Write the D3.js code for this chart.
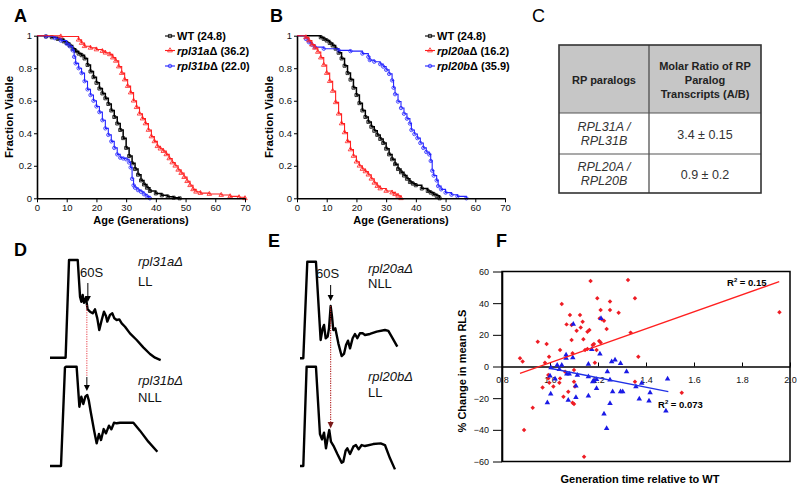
<!DOCTYPE html>
<html>
<head>
<meta charset="utf-8">
<script src="https://cdn.jsdelivr.net/npm/d3@7"></script>
<style>
  body { margin: 0; background: #fff; }
</style>
</head>
<body>
<svg width="800" height="489"></svg>
<script>
// ---- survival data: [age (generations), fraction viable]
const ageTicks = [0, 10, 20, 30, 40, 50, 60, 70];
const fracTicks = [0, 0.2, 0.4, 0.6, 0.8, 1];

const wtA = [[0,1],[3,0.995],[5,0.99],[7,0.98],[9,0.965],[10,0.955],[11,0.94],[12,0.92],[13,0.905],[14,0.89],[15,0.88],[16,0.86],[17,0.82],[18,0.78],[19,0.745],[20,0.71],[21,0.675],[22,0.645],[23,0.615],[24,0.58],[25,0.54],[26,0.5],[27,0.46],[28,0.42],[29,0.37],[30,0.31],[31,0.26],[32,0.215],[33,0.18],[34,0.145],[35,0.11],[36,0.085],[37,0.065],[38,0.045],[40,0.03],[42,0.018],[44,0.01],[46,0.004],[48,0]];
const rpl31a = [[0,1],[8,0.995],[14,0.975],[15,0.955],[16,0.935],[18,0.925],[20,0.915],[22,0.905],[23,0.895],[24.5,0.885],[25.5,0.865],[26.5,0.845],[27.5,0.81],[28.5,0.77],[29.5,0.73],[30.5,0.69],[31.5,0.65],[32.5,0.6],[33.5,0.56],[34.5,0.52],[35.5,0.49],[36.5,0.46],[37.5,0.42],[38.5,0.38],[39.5,0.35],[40.5,0.32],[41.5,0.305],[42.5,0.29],[43.5,0.27],[44.5,0.245],[45.5,0.22],[46.5,0.2],[47.5,0.175],[48.5,0.155],[49.5,0.13],[50.5,0.105],[51.5,0.08],[52.5,0.055],[53.5,0.04],[55,0.032],[58,0.026],[62,0.02],[65,0.012],[68,0.006],[70,0]];
const rpl31b = [[0,1],[3,0.995],[6,0.985],[8,0.97],[10,0.95],[11,0.935],[12,0.91],[12.5,0.87],[13,0.83],[14,0.8],[15,0.77],[16,0.72],[17,0.67],[18,0.635],[19,0.6],[20,0.565],[21,0.53],[22,0.48],[23,0.43],[24,0.39],[25,0.35],[26,0.31],[27,0.27],[28,0.25],[29,0.245],[30,0.24],[31,0.22],[31.5,0.19],[32,0.12],[32.5,0.08],[33,0.065],[34,0.05],[35,0.04],[36,0.025],[37,0.012],[38,0]];

const wtB = [[0,1],[8,0.99],[9,0.98],[10,0.97],[11,0.955],[12,0.94],[13,0.92],[14,0.895],[15,0.86],[16,0.815],[17,0.77],[18,0.73],[19,0.68],[20,0.635],[21,0.585],[22,0.54],[23,0.5],[24,0.47],[25,0.44],[26,0.415],[27,0.39],[28,0.365],[29,0.34],[30,0.305],[31,0.27],[32,0.24],[33,0.21],[34,0.18],[35,0.16],[36,0.14],[37,0.12],[38,0.1],[39,0.09],[40,0.08],[42,0.06],[44,0.045],[45,0.035],[46,0.025],[47,0.015],[48,0]];
const rpl20a = [[0,1],[3,0.99],[4,0.97],[5,0.945],[6,0.925],[7,0.9],[8,0.865],[9,0.82],[10,0.77],[11,0.72],[12,0.66],[13,0.59],[14,0.52],[15,0.46],[16,0.405],[17,0.35],[18,0.3],[19,0.26],[20,0.225],[21,0.2],[22,0.18],[23,0.165],[24,0.145],[25,0.12],[26,0.095],[27,0.075],[28,0.06],[30,0.045],[32,0.035],[33,0.025],[34,0.015],[35,0]];
const rpl20b = [[0,1],[3,0.98],[4,0.96],[5,0.945],[6,0.93],[9,0.92],[14,0.91],[18,0.905],[22,0.89],[24,0.87],[24.5,0.85],[26,0.84],[28,0.825],[29,0.81],[30,0.79],[31,0.765],[32,0.725],[32.5,0.68],[33,0.64],[34,0.595],[35,0.555],[36,0.52],[37,0.49],[38,0.46],[38.5,0.42],[39.5,0.395],[40.5,0.37],[41.5,0.34],[42.5,0.31],[43.5,0.285],[44.5,0.27],[45,0.23],[45.5,0.17],[46,0.14],[47,0.11],[47.5,0.075],[48.5,0.055],[50,0.035],[52,0.022],[54,0.012],[57,0]];

const strainsA = ['WT', 'rpl31a', 'rpl31b'];
const meansA = [24.8, 36.2, 22.0];
const strainsB = ['WT', 'rpl20a', 'rpl20b'];
const meansB = [24.8, 16.2, 35.9];

// ---- table C
const headParalog = 'RP paralogs';
const headRatio = ['Molar Ratio of RP', 'Paralog', 'Transcripts (A/B)'];
const paralogPairs = [['RPL31A /', 'RPL31B'], ['RPL20A /', 'RPL20B']];
const molarRatios = ['3.4 ± 0.15', '0.9 ± 0.2'];

// ---- polysome profiles: [gradient position 0-100, absorbance 0-100]
const d31aTrace = [[0,0],[14.2,0],[17.3,100],[25.2,100],[27.3,62.5],[28.5,57.3],[29.7,64.2],[30.9,56.3],[32.7,61.4],[34.2,49.5],[36.4,47.1],[38.8,45.4],[40.9,49.5],[43,40.3],[44.8,28.3],[47,38.6],[49.1,47.1],[50.9,42.7],[52.1,36.9],[54.5,43.7],[56.7,45.4],[58.5,40.3],[60.6,38.6],[63,39.2],[65.2,35.2],[68.2,31.7],[72.7,24.9],[78.8,18.1],[84.8,10.6],[90.9,3.8],[95.5,0],[100.6,-2.4]];
const d31bTrace = [[0,0],[10,0],[13.6,99.3],[14.5,100],[24.2,100],[26.7,59.7],[28.5,69.8],[30.3,62.4],[32.1,69.8],[33.9,71.5],[35.2,66.4],[37,54.7],[40,36.2],[42.4,22.8],[44.5,32.2],[46.4,26.2],[48.8,37.2],[50.9,32.9],[53.6,40.6],[55.8,36.9],[58.2,43.6],[60.6,43],[63.6,43.6],[75.8,43.6],[81.8,35.6],[89.4,24.5],[97.6,14.4]];
const e20aTrace = [[0,0],[3.4,0],[7.5,100],[16.4,100],[21.2,19],[23.3,31],[24.7,34.5],[26.4,20.7],[28.4,22.4],[29.8,31],[31.5,54.1],[32.9,43.1],[34.2,29.3],[36.3,31],[39.4,15.5],[42.8,2.4],[45.2,4.5],[47.3,13.8],[49.3,18.3],[51.4,10.3],[54.1,20.7],[56.5,25.2],[58.9,20.7],[61.6,25.9],[64.4,25.9],[66.8,24.1],[71.9,25.2],[78.8,27.6],[87.3,29.3],[90.8,28.3],[94.2,22.4],[100,12.1]];
const e20bTrace = [[0,0],[3.4,0],[6.8,100],[16.4,100],[20.5,32.2],[22.6,26.8],[24.7,33.6],[26.7,17.8],[28.4,27.9],[30.1,36.2],[31.8,24.5],[34.9,19.5],[38.4,12.1],[42.8,3.4],[44.5,4.4],[46.9,15.4],[48.6,17.8],[51.4,12.1],[54.8,19.5],[57.5,21.1],[60.3,16.8],[63.4,21.1],[66.8,20.1],[75.3,22.1],[82.9,22.8],[87.3,21.1],[92.5,7.7],[97.6,-3.4]];

// ---- panel F: [generation time relative to WT, % change in mean RLS]
const genTicks = [0.8, 1.0, 1.2, 1.4, 1.6, 1.8, 2.0];
const rlsTicks = [-60, -40, -20, 0, 20, 40, 60];
const redPts = [[1.169,54.0],[1.325,54.6],[1.354,43.1],[1.197,43.1],[1.049,39.5],[1.25,41.0],[1.211,35.7],[1.25,35.7],[1.286,34.0],[1.083,32.5],[1.125,32.5],[1.207,30.4],[1.215,29.8],[1.225,28.9],[1.136,28.3],[1.069,26.6],[1.09,26.2],[1.128,24.7],[1.236,23.7],[1.111,22.6],[1.156,22.0],[1.164,23.1],[1.336,21.4],[1.09,16.7],[1.139,17.2],[0.949,15.7],[0.986,14.2],[1.205,16.1],[1.211,15.1],[1.178,13.6],[1.183,14.2],[1.156,11.1],[1.146,10.4],[1.194,10.4],[1.042,10.4],[1.094,8.3],[0.996,6.2],[0.875,5.2],[0.886,3.1],[0.979,2.4],[1.187,2.4],[1.368,6.2],[1.956,34.2],[0.993,-5.4],[1.063,-3.3],[1.1,-2.2],[0.993,-7.5],[1.042,-7.5],[0.997,-10.2],[1.039,-10.2],[0.969,-13.2],[1.014,-12.7],[1.1,-9.6],[1.104,-12.7],[1.076,-15.9],[1.056,-19.1],[1.094,-22.9],[1.1,-23.7],[0.928,-26.0],[0.892,-40.1],[1.142,-57.0],[1.354,-9.6],[1.549,-16.6]];
const bluePts = [[1.097,26.8],[1.2125,30.4],[1.174,10.8],[1.067,7.3],[1.095,5.6],[1.067,5.2],[1.208,7.9],[1.271,4.1],[1.257,3.1],[1.294,2.0],[1.16,1.4],[1.03,0.9],[1.049,0.9],[1.004,-0.7],[1.039,-1.8],[1.319,-3.3],[1.239,-3.3],[1.07,-4.7],[1.08,-4.7],[1.114,-5.4],[1.16,-6.4],[1.183,-8.9],[1.194,-8.1],[1.25,-8.5],[1.178,-9.6],[1.021,-7.9],[1.108,-12.3],[1.194,-13.8],[1.382,-10.6],[1.358,-12.7],[1.49,-7.9],[1.261,-15.9],[1.294,-15.9],[1.303,-15.9],[1.417,-16.6],[1.003,-17.3],[1.108,-19.5],[1.16,-18.6],[0.989,-22.9],[1.076,-21.2],[1.25,-23.3],[1.372,-20.5],[1.4125,-21.8],[1.483,-28.1],[1.225,-30.0],[1.236,-39.1],[1.0,-6.0]];
const redFit = [[0.875,-4.3],[1.955,53.6]];
const blueFit = [[1.0,-1.1],[1.493,-15.9]];
const redR2 = '0.15';
const blueR2 = '0.073';

const FONT = "'Liberation Sans', Arial, Helvetica, sans-serif";
const svg = d3.select('svg').style('font-family', FONT);
const curveColors = ['#000', '#ff1f1f', '#2424ff'];
const shapes = [d3.symbolSquare, d3.symbolTriangle, d3.symbolCircle];

// panel letters
[['A', 14, 22], ['B', 270, 22], ['C', 532, 22], ['D', 14, 256], ['E', 268, 247], ['F', 496, 247]]
  .forEach(([t, x, y]) => svg.append('text').attr('x', x).attr('y', y)
    .attr('font-size', 18).attr('font-weight', t === 'C' ? 'normal' : 'bold').text(t));

function styleAxis(a, size) {
  a.attr('font-family', FONT).attr('font-size', size);
  a.select('.domain').attr('stroke-width', 1.6);
  a.selectAll('.tick text').attr('fill', '#111');
}

function survivalPanel(left, series, strains, means) {
  const x = d3.scaleLinear().domain([0, 70]).range([left, left + 208]);
  const y = d3.scaleLinear().domain([0, 1]).range([198.3, 35.7]);
  const g = svg.append('g');
  const step = d3.line().x(d => x(d[0])).y(d => y(d[1])).curve(d3.curveStepAfter);

  const order = [0, 2, 1];
  order.forEach(i => {
    const s = series[i];
    g.append('path').datum(s).attr('d', step).attr('fill', 'none')
      .attr('stroke', curveColors[i]).attr('stroke-width', i === 0 ? 1.5 : 1.1);
    g.selectAll(null).data(s.slice(1)).join('path')
      .attr('transform', d => `translate(${x(d[0])},${y(d[1])})`)
      .attr('d', d3.symbol(shapes[i], 9))
      .attr('fill', 'none').attr('stroke', curveColors[i]).attr('stroke-width', 0.8);
  });

  const xa = g.append('g').attr('transform', `translate(0,${y(0)})`)
    .call(d3.axisBottom(x).tickValues(ageTicks).tickSize(4).tickSizeOuter(0).tickPadding(2));
  const ya = g.append('g').attr('transform', `translate(${x(0)},0)`)
    .call(d3.axisLeft(y).tickValues(fracTicks).tickSize(3).tickSizeOuter(0).tickPadding(2).tickFormat(d => d));
  styleAxis(xa, 9.5);
  styleAxis(ya, 9.5);

  g.append('text').attr('x', left + 104).attr('y', 224).attr('text-anchor', 'middle')
    .attr('font-size', 11).attr('font-weight', 'bold').text('Age (Generations)');
  g.append('text').attr('transform', `translate(${left - 24},117) rotate(-90)`)
    .attr('text-anchor', 'middle').attr('font-size', 11.5).attr('font-weight', 'bold')
    .text('Fraction Viable');

  // legend
  const lx = left + 128;
  const rows = [36, 50.5, 66];
  strains.forEach((s, i) => {
    const yy = rows[i];
    g.append('line').attr('x1', lx).attr('x2', lx + 10).attr('y1', yy).attr('y2', yy)
      .attr('stroke', curveColors[i]).attr('stroke-width', 1.1);
    g.append('path').attr('transform', `translate(${lx + 5},${yy})`)
      .attr('d', d3.symbol(shapes[i], 10)).attr('fill', 'none')
      .attr('stroke', curveColors[i]).attr('stroke-width', 0.8);
    const t = g.append('text').attr('x', lx + 12).attr('y', yy + 4)
      .attr('font-size', 11).attr('font-weight', 'bold');
    if (i === 0) t.text(`${s} (${means[i].toFixed(1)})`);
    else {
      t.append('tspan').attr('font-style', 'italic').text(s);
      t.append('tspan').text(`Δ (${means[i].toFixed(1)})`);
    }
  });
}

survivalPanel(37, [wtA, rpl31a, rpl31b], strainsA, meansA);
survivalPanel(297, [wtB, rpl20a, rpl20b], strainsB, meansB);

// ---- table C
const colX = [559, 649, 761];
const rowY = [45, 113, 154, 193];
const tc = svg.append('g');
tc.append('rect').attr('x', colX[0]).attr('y', rowY[0]).attr('width', colX[2] - colX[0])
  .attr('height', rowY[1] - rowY[0]).attr('fill', '#c6c6c6');
tc.append('line').attr('x1', colX[1]).attr('x2', colX[1]).attr('y1', rowY[0]).attr('y2', rowY[3])
  .attr('stroke', '#444').attr('stroke-width', 1.2);
rowY.slice(1, 3).forEach(r => tc.append('line').attr('x1', colX[0]).attr('x2', colX[2])
  .attr('y1', r).attr('y2', r).attr('stroke', '#555').attr('stroke-width', 1.2));
tc.append('rect').attr('x', colX[0]).attr('y', rowY[0]).attr('width', colX[2] - colX[0])
  .attr('height', rowY[3] - rowY[0]).attr('fill', 'none').attr('stroke', '#333').attr('stroke-width', 1.6);
const c1 = (colX[0] + colX[1]) / 2, c2 = (colX[1] + colX[2]) / 2;
tc.append('text').attr('x', c1).attr('y', 83.5).attr('text-anchor', 'middle')
  .attr('font-size', 11).attr('font-weight', 'bold').attr('fill', '#222').text(headParalog);
headRatio.forEach((l, i) => tc.append('text').attr('x', c2).attr('y', 69.5 + i * 14)
  .attr('text-anchor', 'middle').attr('font-size', 11).attr('font-weight', 'bold')
  .attr('fill', '#222').text(l));
paralogPairs.forEach((p, r) => {
  const mid = (rowY[r + 1] + rowY[r + 2]) / 2;
  p.forEach((l, j) => tc.append('text').attr('x', c1).attr('y', mid - 2.5 + j * 13.5)
    .attr('text-anchor', 'middle').attr('font-size', 12.5).attr('font-style', 'italic')
    .attr('fill', '#333').text(l));
  tc.append('text').attr('x', c2).attr('y', mid + 5).attr('text-anchor', 'middle')
    .attr('font-size', 12.5).attr('fill', '#333').text(molarRatios[r]);
});

// ---- polysome profiles D & E
function trace(data, x0, x1, yBase, yTop) {
  const x = d3.scaleLinear().domain([0, 100]).range([x0, x1]);
  const y = d3.scaleLinear().domain([0, 100]).range([yBase, yTop]);
  svg.append('path').datum(data)
    .attr('d', d3.line().x(d => x(d[0])).y(d => y(d[1])))
    .attr('fill', 'none').attr('stroke', '#000').attr('stroke-width', 2.4)
    .attr('stroke-linejoin', 'round');
  return { x, y };
}
function arrow(x, y1, tip, color) {
  svg.append('line').attr('x1', x).attr('x2', x).attr('y1', y1).attr('y2', tip - 5)
    .attr('stroke', color).attr('stroke-width', 1);
  svg.append('path').attr('d', `M${x - 3},${tip - 6}L${x + 3},${tip - 6}L${x},${tip}Z`).attr('fill', color);
}
function label(x, y, italicPart, rest, size) {
  const t = svg.append('text').attr('x', x).attr('y', y).attr('font-size', size).attr('fill', '#111');
  if (italicPart) t.append('tspan').attr('font-style', 'italic').text(italicPart);
  t.append('tspan').text(rest);
}

const dTop = trace(d31aTrace, 50, 160, 357.7, 260);
trace(d31bTrace, 50, 160, 466, 366.7);
const xD = dTop.x(33.5);
svg.append('text').attr('x', 80).attr('y', 277).attr('font-size', 13).attr('fill', '#111').text('60S');
arrow(xD + 1, 283, 302, '#000');
svg.append('line').attr('x1', xD).attr('x2', xD).attr('y1', 305).attr('y2', 377)
  .attr('stroke', '#e8404a').attr('stroke-width', 1).attr('stroke-dasharray', '1.2,1.2');
arrow(xD, 377, 391, '#000');
label(138, 266, 'rpl31aΔ', '', 13);
label(138, 286, '', 'LL', 13);
label(138, 384.5, 'rpl31bΔ', '', 13);
label(138, 401.5, '', 'NLL', 13);

const eTop = trace(e20aTrace, 300, 397.3, 358.3, 261.7);
trace(e20bTrace, 300, 397.3, 466, 366.7);
const xE = eTop.x(31.5);
svg.append('text').attr('x', 316).attr('y', 278).attr('font-size', 13).attr('fill', '#111').text('60S');
arrow(xE, 285, 301, '#000');
svg.append('line').attr('x1', xE).attr('x2', xE).attr('y1', eTop.y(54.1)).attr('y2', 423)
  .attr('stroke', '#b01818').attr('stroke-width', 1.1).attr('stroke-dasharray', '1.2,1.2');
svg.append('path').attr('d', `M${xE - 3},${422}L${xE + 3},${422}L${xE},${428.5}Z`).attr('fill', '#7a1a1a');
label(368, 272.5, 'rpl20aΔ', '', 13);
label(368, 288, '', 'NLL', 13);
label(368, 380.5, 'rpl20bΔ', '', 13);
label(368, 396.5, '', 'LL', 13);

// ---- panel F scatter
const fx = d3.scaleLinear().domain([0.8, 2.0]).range([502, 790]);
const fy = d3.scaleLinear().domain([-60, 60]).range([461.5, 271.5]);
const gf = svg.append('g');
gf.append('rect').attr('x', fx(0.8)).attr('y', fy(60)).attr('width', fx(2.0) - fx(0.8))
  .attr('height', fy(-60) - fy(60)).attr('fill', 'none').attr('stroke', '#000').attr('stroke-width', 1.5);
const fya = gf.append('g').attr('transform', `translate(${fx(0.8)},0)`)
  .call(d3.axisLeft(fy).tickValues(rlsTicks).tickSize(9).tickPadding(4).tickSizeOuter(0));
styleAxis(fya, 9);
const fxa = gf.append('g').attr('transform', `translate(0,${fy(0)})`)
  .call(d3.axisBottom(fx).tickValues(genTicks).tickSize(-4).tickPadding(10).tickSizeOuter(0)
    .tickFormat(d3.format('.1f')));
styleAxis(fxa, 9);
fxa.select('.domain').attr('stroke-width', 1.5);

const fitLine = d3.line().x(d => fx(d[0])).y(d => fy(d[1]));
gf.selectAll(null).data(redPts).join('path')
  .attr('transform', d => `translate(${fx(d[0])},${fy(d[1])}) rotate(45)`)
  .attr('d', d3.symbol(d3.symbolSquare, 10)).attr('fill', '#ee1c24');
gf.selectAll(null).data(bluePts).join('path')
  .attr('transform', d => `translate(${fx(d[0])},${fy(d[1])})`)
  .attr('d', d3.symbol(d3.symbolTriangle, 13)).attr('fill', '#1a1ae6');
gf.append('path').datum(redFit).attr('d', fitLine).attr('stroke', '#ff2020').attr('stroke-width', 1.3).attr('fill', 'none');
gf.append('path').datum(blueFit).attr('d', fitLine).attr('stroke', '#2030e6').attr('stroke-width', 1.3).attr('fill', 'none');

function r2(x, y, val) {
  const t = gf.append('text').attr('x', x).attr('y', y).attr('font-size', 9.5).attr('font-weight', 'bold');
  t.append('tspan').text('R');
  t.append('tspan').attr('font-size', 6).attr('dy', -4).text('2');
  t.append('tspan').attr('dy', 4).text(` = ${val}`);
}
r2(727, 285.5, redR2);
r2(658, 408, blueR2);

gf.append('text').attr('transform', `translate(466,371) rotate(-90)`).attr('text-anchor', 'middle')
  .attr('font-size', 11).attr('font-weight', 'bold').text('% Change in mean RLS');
gf.append('text').attr('x', 640).attr('y', 483).attr('text-anchor', 'middle')
  .attr('font-size', 11).attr('font-weight', 'bold').text('Generation time relative to WT');
</script>
</body>
</html>
